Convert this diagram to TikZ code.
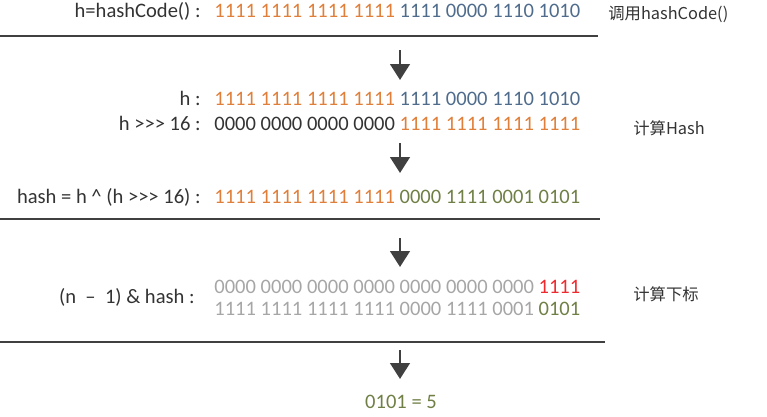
\documentclass[tikz,border=0pt]{standalone}
\usepackage{fontspec}
\setmainfont{Carlito}[Ligatures=TeXOff]
\newfontfamily\cjkfont{Noto Sans CJK SC}
\usetikzlibrary{arrows.meta}
\definecolor{BitOrange}{HTML}{E07F3A}
\definecolor{BitBlue}{HTML}{4F6C8C}
\definecolor{BitGreen}{HTML}{6F7F45}
\definecolor{BitGray}{HTML}{A6A6A6}
\definecolor{BitRed}{HTML}{EE2A2E}
\definecolor{TextDark}{HTML}{333333}
\definecolor{LineGray}{HTML}{404040}
\newcommand{\bo}[1]{\textcolor{BitOrange}{#1}}
\newcommand{\bb}[1]{\textcolor{BitBlue}{#1}}
\newcommand{\bg}[1]{\textcolor{BitGreen}{#1}}
\newcommand{\br}[1]{\textcolor{BitRed}{#1}}

\begin{document}
\begin{tikzpicture}[
  x=0.02cm, y=-0.02cm,
  lbl/.style={anchor=base east, inner sep=0pt, text=TextDark, font=\fontsize{11.7}{14}\selectfont},
  bits/.style={anchor=base west, inner sep=0pt, text=TextDark, font=\fontsize{11.7}{14}\selectfont},
  note/.style={anchor=base west, inner sep=0pt, text=TextDark, font=\cjkfont\fontsize{9.3}{11}\selectfont},
  sep/.style={draw=LineGray, line width=1.2pt},
  arr/.style={-{Triangle[width=11pt,length=9pt]}, draw=LineGray, fill=LineGray, line width=1.6pt}
]
\useasboundingbox (0,0) rectangle (767,416);

% step 1: hashCode
\node[lbl] (hcl) at (201,17) {h=hashCode() :};
\node[bits] (hcb) at (214,17) {\bo{1111 1111 1111 1111} \bb{1111 0000 1110 1010}};
\node[note] (n1) at (608,19) {调用hashCode()};
\coordinate (s1a) at (0,36);
\coordinate (s1b) at (598,36);

% step 2: hash
\node[lbl] (hl) at (201,105) {h :};
\node[bits] (hb) at (214,105) {\bo{1111 1111 1111 1111} \bb{1111 0000 1110 1010}};
\node[lbl] (hsl) at (201,130) {h >>> 16 :};
\node[bits] (hsb) at (214,130) {0000 0000 0000 0000 \bo{1111 1111 1111 1111}};
\node[lbl] (xl) at (201,203) {hash = h \textasciicircum{} (h >>> 16) :};
\node[bits] (xb) at (214,203) {\bo{1111 1111 1111 1111} \bg{0000 1111 0001 0101}};
\node[note] (n2) at (633,134) {计算Hash};
\coordinate (s2a) at (0,219);
\coordinate (s2b) at (600,219);

% step 3: index
\node[lbl] (il) at (195,303) {(n~~–~~1) \& hash :};
\node[bits, text=BitGray] (ib1) at (214,293) {0000 0000 0000 0000 0000 0000 0000 \br{1111}};
\node[bits, text=BitGray] (ib2) at (214,315) {1111 1111 1111 1111 0000 1111 0001 \bg{0101}};
\node[note] (n3) at (633,300) {计算下标};
\coordinate (s3a) at (0,342);
\coordinate (s3b) at (605,342);

\node[anchor=base, inner sep=0pt, text=BitGreen, font=\fontsize{11.7}{14}\selectfont] (res) at (401,408) {0101 = 5};

\coordinate (a1s) at (400,50);
\coordinate (a1e) at (400,80);
\coordinate (a2s) at (400,143);
\coordinate (a2e) at (400,173);
\coordinate (a3s) at (400,238);
\coordinate (a3e) at (400,267);
\coordinate (a4s) at (400,350);
\coordinate (a4e) at (400,379);

\draw[sep] (s1a) -- (s1b);
\draw[sep] (s2a) -- (s2b);
\draw[sep] (s3a) -- (s3b);

\draw[arr] (a1s) -- (a1e);
\draw[arr] (a2s) -- (a2e);
\draw[arr] (a3s) -- (a3e);
\draw[arr] (a4s) -- (a4e);
\end{tikzpicture}
\end{document}
